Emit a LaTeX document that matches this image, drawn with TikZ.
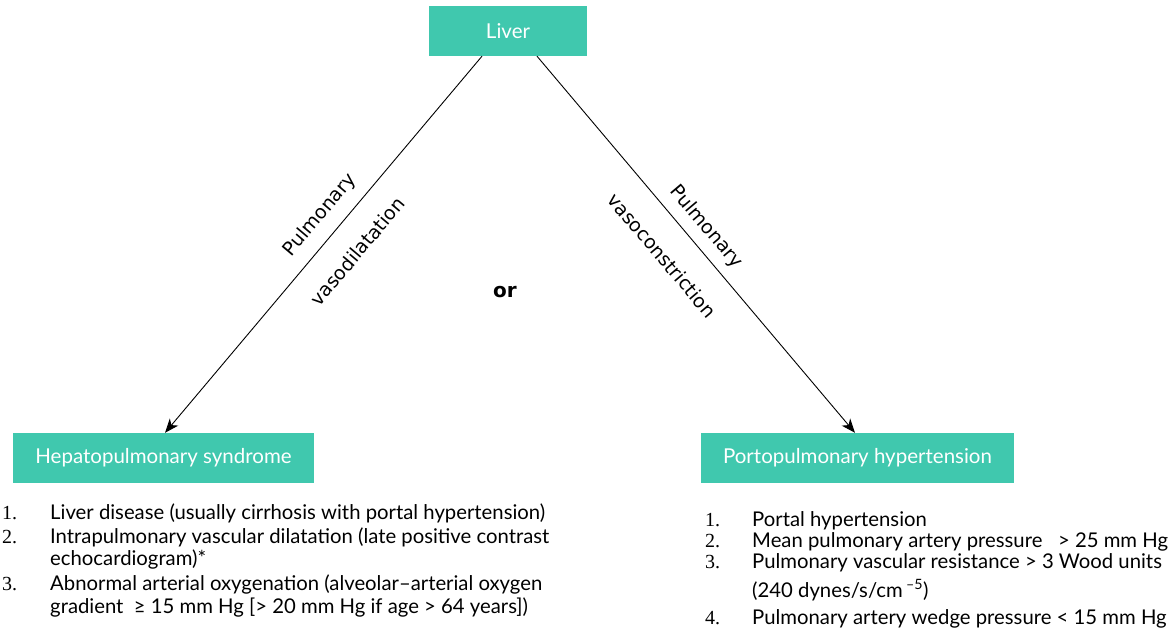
\documentclass[tikz,border=0pt]{standalone}
\usepackage{fontspec}
\setmainfont{Lato}
\newfontfamily\lblfont{DejaVu Sans}
\newfontfamily\numfont{Liberation Serif}
\usetikzlibrary{arrows.meta, positioning, calc}
\definecolor{boxteal}{RGB}{64,200,174}

\begin{document}
\begin{tikzpicture}[x=1pt, y=-1pt,
  block/.style={fill=boxteal, text=white, minimum height=50pt,
                inner sep=0pt, font=\fontsize{20.5}{24}\selectfont},
  arrow/.style={-{Stealth[length=14pt, width=11pt, inset=4pt]}, line width=0.9pt},
  lbl/.style={font=\lblfont\fontsize{19}{22}\selectfont, inner sep=0pt, sloped},
  itemnum/.style={anchor=base west, inner sep=0pt, font=\numfont\fontsize{20}{24}\selectfont},
  itemtxt/.style={anchor=base west, inner sep=0pt, font=\fontsize{20.3}{24}\selectfont}
]
  \useasboundingbox (0,0) rectangle (1171,644);

  % Nodes
  \node[block, minimum width=158pt] (liver) at (508,31) {Liver};
  \node[block, minimum width=301pt] (hps) at (163.5,458) {Hepatopulmonary syndrome};
  \node[block, minimum width=313pt] (poph) at (857.5,458) {Portopulmonary hypertension};
  \node[font=\lblfont\bfseries\fontsize{20}{24}\selectfont] (or) at (505,292) {or};

  % Arrows
  \draw[arrow] ([xshift=-26pt]liver.south) -- ([xshift=1.5pt]hps.north)
    node[lbl, pos=0.459, above=12pt] (pulL) {Pulmonary}
    node[lbl, pos=0.466, below=22.5pt] (vasoL) {vasodilatation};
  \draw[arrow] ([xshift=29pt]liver.south) -- ([xshift=-2.5pt]poph.north)
    node[lbl, pos=0.486, above=9.5pt] (pulR) {Pulmonary}
    node[lbl, pos=0.473, below=25pt] (vasoR) {vasoconstriction};

  % Criteria, hepatopulmonary syndrome
  \node[itemnum] (hn1) at (2,519) {1.};
  \node[itemtxt] (ht1) at (50,519) {Liver disease (usually cirrhosis with portal hypertension)};
  \node[itemnum] (hn2) at (2,543) {2.};
  \node[itemtxt] (ht2) at (50,543) {Intrapulmonary vascular dilatation (late positive contrast};
  \node[itemtxt] (ht2b) at (50,565) {echocardiogram)*};
  \node[itemnum] (hn3) at (2,590) {3.};
  \node[itemtxt] (ht3) at (50,590) {Abnormal arterial oxygenation (alveolar–arterial oxygen};
  \node[itemtxt] (ht3b) at (50,613) {gradient~ ≥ 15 mm Hg [> 20 mm Hg if age > 64 years])};

  % Criteria, portopulmonary hypertension
  \node[itemnum] (pn1) at (705,526) {1.};
  \node[itemtxt] (pt1) at (752,526) {Portal hypertension};
  \node[itemnum] (pn2) at (705,547) {2.};
  \node[itemtxt] (pt2) at (752,547) {Mean pulmonary artery pressure~ \ > 25 mm Hg};
  \node[itemnum] (pn3) at (705,568) {3.};
  \node[itemtxt] (pt3) at (752,568) {Pulmonary vascular resistance > 3 Wood units};
  \node[itemtxt] (pt3b) at (752,597) {(240 dynes/s/cm\,\textsuperscript{–5})};
  \node[itemnum] (pn4) at (705,624) {4.};
  \node[itemtxt] (pt4) at (752,624) {Pulmonary artery wedge pressure < 15 mm Hg};
\end{tikzpicture}
\end{document}
